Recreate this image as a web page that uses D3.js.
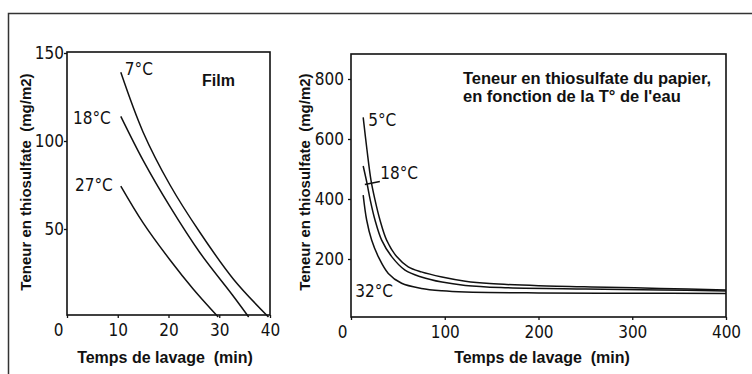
<!DOCTYPE html>
<html>
<head>
<meta charset="utf-8">
<script src="https://cdn.jsdelivr.net/npm/d3@7"></script>
<style>
  body { margin: 0; background: #fff; }
  svg { display: block; }
</style>
</head>
<body>
<div id="chart"></div>
<script>
// ---- data ----
// Film : teneur en thiosulfate (mg/m2) vs temps de lavage (min)
let film_labels = ["7°C", "18°C", "27°C"];
let film_time_7 = [10.6, 15, 20.3, 26.2, 32.8, 39.7];
let film_val_7 = [139, 105, 75, 48, 21.5, 0];
let film_time_18 = [10.6, 15, 20.3, 26.2, 32.6, 35.8];
let film_val_18 = [114, 89, 62.7, 36.5, 12.5, 0];
let film_time_27 = [10.6, 15, 20.3, 24.9, 29.8];
let film_val_27 = [74.4, 53.5, 32.4, 15.8, 0];

// Papier
let paper_labels = ["5°C", "18°C", "32°C"];
let paper_time_5 = [13, 17, 21.3, 25.6, 30.9, 38, 48.7, 61, 75, 97, 122, 148, 200, 273, 330, 400];
let paper_val_5 = [672, 565, 463, 397, 330, 263, 208, 174, 157, 140, 126, 118, 111, 106, 102, 97];
let paper_time_18 = [13, 16.9, 20.5, 25.6, 32.7, 43.4, 57.6, 75, 97, 122, 160, 250, 330, 400];
let paper_val_18 = [510, 455, 397, 330, 263, 208, 163, 140, 123, 112, 105, 100, 97, 93];
let paper_time_32 = [13, 16.7, 22, 29.1, 39.8, 54, 75, 97, 122, 200, 300, 400];
let paper_val_32 = [413, 330, 263, 208, 152, 119, 102, 94, 90, 87, 86, 85];

let film_x_ticks = [0, 10, 20, 30, 40];
let film_y_ticks = [50, 100, 150];
let paper_x_ticks = [0, 100, 200, 300, 400];
let paper_y_ticks = [200, 400, 600, 800];

let film_series = [
  { name: film_labels[0], t: film_time_7, v: film_val_7 },
  { name: film_labels[1], t: film_time_18, v: film_val_18 },
  { name: film_labels[2], t: film_time_27, v: film_val_27 },
];
let paper_series = [
  { name: paper_labels[0], t: paper_time_5, v: paper_val_5 },
  { name: paper_labels[1], t: paper_time_18, v: paper_val_18 },
  { name: paper_labels[2], t: paper_time_32, v: paper_val_32 },
];

// ---- layout ----
let chart_width = 752;
let chart_height = 374;
let hand_font = '"Liberation Sans Narrow", "DejaVu Sans Condensed", "Roboto Condensed", sans-serif';
let bold_font = '"Liberation Sans", Arial, sans-serif';
let ink = "#111";

let svg = d3
  .select("#chart")
  .append("svg")
  .attr("width", chart_width)
  .attr("height", chart_height);

// outer frame (runs off the right / bottom of the picture)
svg
  .append("rect")
  .attr("x", 8.5)
  .attr("y", 13.5)
  .attr("width", 800)
  .attr("height", 400)
  .attr("fill", "none")
  .attr("stroke", "#333")
  .attr("stroke-width", 1.5);

//scales
let film_x = d3.scaleLinear().domain([0, 40]).range([67, 270]);
let film_y = d3.scaleLinear().domain([0, 150]).range([317, 53]);
let paper_x = d3.scaleLinear().domain([0, 400]).range([351, 726]);
let paper_y = d3.scaleLinear().domain([0, 800]).range([319, 79]);

function draw_panel(opt) {
  let g = svg.append("g");

  // plot box
  g.append("rect")
    .attr("x", opt.box[0])
    .attr("y", opt.box[1])
    .attr("width", opt.box[2] - opt.box[0])
    .attr("height", opt.box[3] - opt.box[1])
    .attr("fill", "none")
    .attr("stroke", ink)
    .attr("stroke-width", 1.6);

  // y axis
  let ya = g
    .append("g")
    .attr("transform", "translate(" + opt.box[0] + ",0)")
    .call(d3.axisLeft(opt.y).tickValues(opt.y_ticks).tickSize(3).tickPadding(opt.y_pad));
  // x axis
  let xa = g
    .append("g")
    .attr("transform", "translate(0," + opt.box[3] + ")")
    .call(d3.axisBottom(opt.x).tickValues(opt.x_ticks).tickSize(3).tickPadding(6));

  [ya, xa].forEach(function (a) {
    a.select(".domain").remove();
    a.selectAll("line").attr("stroke", ink).attr("stroke-width", 1.3);
    a.selectAll("text")
      .attr("fill", ink)
      .style("font-family", hand_font)
      .style("font-size", "17px");
  });
  // the "0" sits left of the corner in the original
  xa.selectAll("text")
    .filter(function (d) { return d === 0; })
    .attr("dx", -9);

  // curves
  let line = d3
    .line()
    .x(function (d) { return opt.x(d[0]); })
    .y(function (d) { return opt.y(d[1]); })
    .curve(d3.curveCatmullRom.alpha(0.5));

  g.selectAll("path.curve")
    .data(opt.series)
    .enter()
    .append("path")
    .attr("class", "curve")
    .attr("d", function (s) { return line(d3.zip(s.t, s.v)); })
    .attr("fill", "none")
    .attr("stroke", ink)
    .attr("stroke-width", 1.5);

  // temperature labels next to the start of each curve
  g.selectAll("text.temp")
    .data(opt.series)
    .enter()
    .append("text")
    .attr("class", "temp")
    .attr("x", function (s, i) { return opt.x(s.t[0]) + opt.label_off[i][0]; })
    .attr("y", function (s, i) { return opt.y(s.v[0]) + opt.label_off[i][1]; })
    .attr("text-anchor", function (s, i) { return opt.label_off[i][2]; })
    .attr("fill", ink)
    .style("font-family", hand_font)
    .style("font-size", "17px")
    .text(function (s) { return s.name; });

  // axis titles
  g.append("text")
    .attr("x", opt.x_title_x)
    .attr("y", 363)
    .attr("text-anchor", "middle")
    .attr("fill", ink)
    .style("font-family", bold_font)
    .style("font-weight", "bold")
    .style("font-size", "16px")
    .style("white-space", "pre")
    .text("Temps de lavage  (min)");

  g.append("text")
    .attr("transform", "translate(" + opt.y_title_x + ",182) rotate(-90)")
    .attr("text-anchor", "middle")
    .attr("fill", ink)
    .style("font-family", bold_font)
    .style("font-weight", "bold")
    .style("font-size", "15px")
    .style("white-space", "pre")
    .text("Teneur en thiosulfate  (mg/m2)");

  return g;
}

let film_g = draw_panel({
  box: [67, 52, 270, 315],
  x: film_x,
  y: film_y,
  x_ticks: film_x_ticks,
  y_ticks: film_y_ticks,
  y_pad: 0,
  series: film_series,
  label_off: [[4, 3, "start"], [-10, 8, "end"], [-8, 5, "end"]],
  x_title_x: 165,
  y_title_x: 31,
});

film_g
  .append("text")
  .attr("x", 202)
  .attr("y", 86)
  .attr("fill", ink)
  .style("font-family", bold_font)
  .style("font-weight", "bold")
  .style("font-size", "16px")
  .text("Film");

let paper_g = draw_panel({
  box: [351, 54, 726, 317],
  x: paper_x,
  y: paper_y,
  x_ticks: paper_x_ticks,
  y_ticks: paper_y_ticks,
  y_pad: 4,
  series: paper_series,
  label_off: [[5, 9, "start"], [17, 13, "start"], [-8, 102, "start"]],
  x_title_x: 542,
  y_title_x: 310,
});

// leader from the 18°C curve to its label
let lead_t = paper_time_18[1];
let lead_v = paper_val_18[1];
paper_g
  .append("path")
  .attr("d", "M" + (paper_x(lead_t) - 2) + "," + (paper_y(lead_v) + 2) +
    " L" + (paper_x(lead_t) + 13) + "," + (paper_y(lead_v) - 1))
  .attr("fill", "none")
  .attr("stroke", ink)
  .attr("stroke-width", 1.3);

paper_g
  .append("text")
  .attr("x", 463)
  .attr("y", 84)
  .attr("fill", ink)
  .style("font-family", bold_font)
  .style("font-weight", "bold")
  .style("font-size", "16.5px")
  .selectAll("tspan")
  .data(["Teneur en thiosulfate du papier,", "en fonction de la T° de l'eau"])
  .enter()
  .append("tspan")
  .attr("x", 463)
  .attr("dy", function (d, i) { return i === 0 ? 0 : 18; })
  .text(function (d) { return d; });
</script>
</body>
</html>
